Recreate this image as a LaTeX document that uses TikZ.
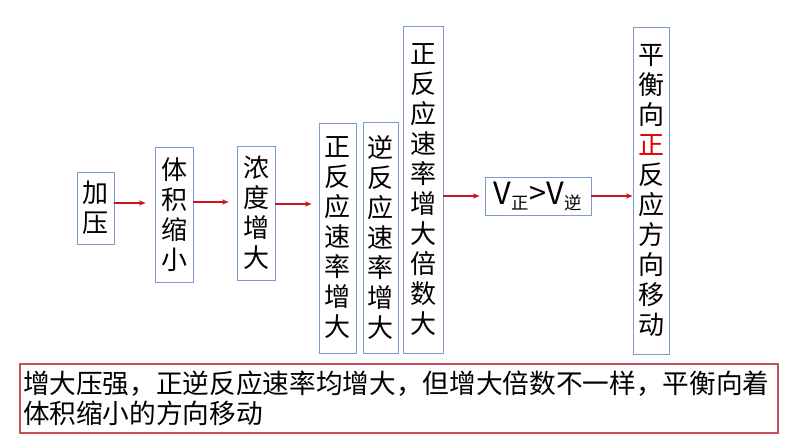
\documentclass[tikz,border=0pt]{standalone}
\usepackage{fontspec}
\setmainfont{Noto Sans CJK SC}
\usetikzlibrary{arrows.meta}
\definecolor{boxblue}{RGB}{125,155,205}
\definecolor{arrred}{RGB}{200,20,30}
\definecolor{txtred}{RGB}{225,0,0}
\definecolor{bred}{RGB}{200,80,90}
\tikzset{
  vbox/.style={draw=boxblue, line width=0.7pt, inner sep=0pt, align=center,
    font=\fontsize{19.5pt}{22.5pt}\selectfont},
  arr/.style={draw=arrred, line width=0.8pt, -{Stealth[length=5pt,width=4pt]}},
}
\begin{document}
\begin{tikzpicture}[x=0.75pt,y=-0.75pt]
\useasboundingbox (0,0) rectangle (794,447);
\node[vbox, minimum width=37*0.75pt, minimum height=72*0.75pt] (n1) at (95.5,208) {加\\压};
\node[vbox, minimum width=38*0.75pt, minimum height=135*0.75pt] (n2) at (174,214.5) {体\\积\\缩\\小};
\node[vbox, minimum width=38*0.75pt, minimum height=134*0.75pt] (n3) at (256,213) {浓\\度\\增\\大};
\node[vbox, minimum width=37*0.75pt, minimum height=230*0.75pt] (n4) at (337.5,238) {正\\反\\应\\速\\率\\增\\大};
\node[vbox, minimum width=35*0.75pt, minimum height=231*0.75pt] (n5) at (380.5,237.5) {逆\\反\\应\\速\\率\\增\\大};
\node[vbox, minimum width=40*0.75pt, minimum height=327*0.75pt] (n6) at (423,189.5) {正\\反\\应\\速\\率\\增\\大\\倍\\数\\大};
\node[vbox, minimum width=106*0.75pt, minimum height=38*0.75pt, font=\fontsize{23pt}{26pt}\selectfont] (n7) at (538,196) {V\textsubscript{\fontsize{13pt}{14pt}\selectfont 正}>V\textsubscript{\fontsize{13pt}{14pt}\selectfont 逆}};
\node[vbox, minimum width=36*0.75pt, minimum height=327*0.75pt] (n8) at (651,190.5) {平\\衡\\向\\\textcolor{txtred}{正}\\反\\应\\方\\向\\移\\动};
\node[draw=bred, line width=0.8pt, minimum width=758*0.75pt, minimum height=69*0.75pt, inner sep=0pt,
  text width=752*0.75pt, align=left, font=\fontsize{20pt}{22.5pt}\selectfont] (n9) at (399,398.5)
  {增大压强，正逆反应速率均增大，但增大倍数不一样，平衡向着\\体积缩小的方向移动};
\draw[arr, shorten >=9*0.75pt] (n1.east |- 0,203) -- (n2.west |- 0,203);
\draw[arr, shorten >=8*0.75pt] (n2.east |- 0,202) -- (n3.west |- 0,202);
\draw[arr, shorten >=7*0.75pt] (n3.east |- 0,204) -- (n4.west |- 0,204);
\draw[arr, shorten >=5*0.75pt] (n6.east |- 0,196) -- (n7.west);
\draw[arr] (n7.east) -- (n8.west |- 0,196);
\end{tikzpicture}
\end{document}
